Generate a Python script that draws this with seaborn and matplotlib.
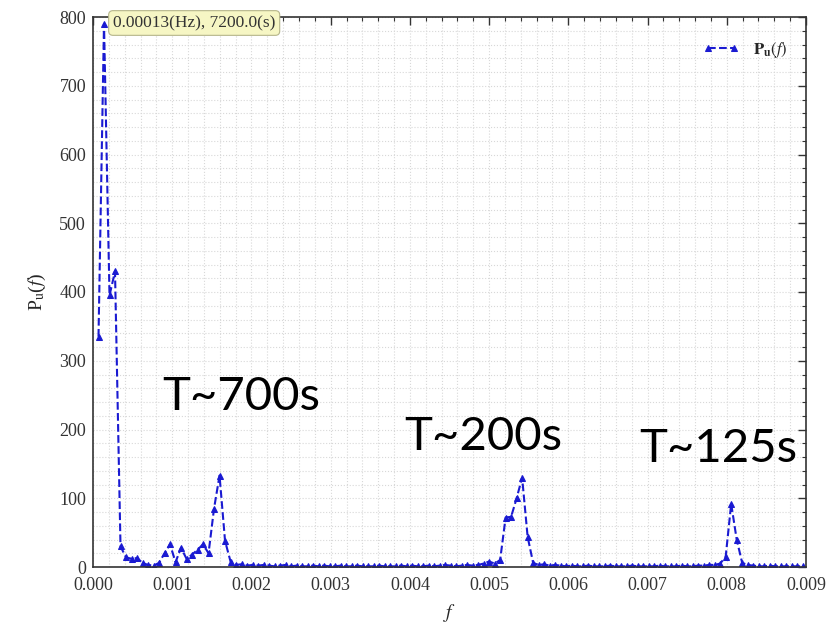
import numpy as np
import pandas as pd
import matplotlib
matplotlib.use("Agg")
import matplotlib.pyplot as plt
import seaborn as sns
from matplotlib.ticker import MultipleLocator, FormatStrFormatter

# ---- data ----
freq_step = 1.0 / 14400.0  # Hz, spectral resolution
power_low = [335, 790, 395, 430, 30, 14, 12, 13, 6, 3, 2, 6, 20, 33, 7, 28,
             12, 18, 25, 33, 20, 85, 133, 38, 8, 3, 4, 2, 3, 2, 3]
power_mid1 = [2, 1, 2, 3, 1, 2, 1, 1, 2, 1, 2, 1, 1, 2, 1, 1, 2, 1, 1, 1,
              2, 1, 1, 1, 2, 1, 2, 1, 1, 2, 1, 2, 3, 2, 1, 2, 3, 2]
power_200 = [3, 5, 8, 5, 10, 72, 73, 100, 130, 44, 6, 3, 4]
power_mid2 = [2, 3, 2, 1, 2, 1, 1, 2, 1, 1, 1, 2, 1, 1, 1, 2, 1, 1, 1, 1,
              2, 1, 1, 1, 2, 1, 1, 2, 2, 3]
power_125 = [3, 5, 15, 92, 40, 6, 3]
power_high = [2, 1, 1, 2, 1, 1, 1, 1, 1, 1]
power = power_low + power_mid1 + power_200 + power_mid2 + power_125 + power_high
freq = np.arange(1, len(power) + 1) * freq_step

period_labels = ["T~700s", "T~200s", "T~125s"]
period_pos = [(0.00088, 228), (0.00393, 170), (0.00690, 152)]
peak_note = "0.00013(Hz), 7200.0(s)"

x_ticks = [0.000, 0.001, 0.002, 0.003, 0.004, 0.005, 0.006, 0.007, 0.008, 0.009]
y_ticks = [0, 100, 200, 300, 400, 500, 600, 700, 800]

df = pd.DataFrame({"f": freq, "P": power})

# ---- figure ----
sns.set_style("white")
plt.rcParams["font.family"] = ["Liberation Serif", "DejaVu Serif"]
plt.rcParams["mathtext.fontset"] = "stix"

fig = plt.figure(figsize=(8.4, 6.24), dpi=100)
ax = fig.add_axes([93 / 840, 57 / 624, 713 / 840, 550 / 624])

blue = "#1a1ad2"
sns.lineplot(data=df, x="f", y="P", ax=ax, color=blue, linestyle="--",
             linewidth=1.5, marker="^", markersize=5, markeredgecolor=blue,
             markerfacecolor=blue, label=r"$\mathbf{P}_{\mathbf{u}}(f)$")

ax.set_xlim(0, 0.009)
ax.set_ylim(0, 800)
ax.set_xticks(x_ticks)
ax.set_yticks(y_ticks)
ax.xaxis.set_major_formatter(FormatStrFormatter("%.3f"))
ax.xaxis.set_minor_locator(MultipleLocator(0.0002))
ax.yaxis.set_minor_locator(MultipleLocator(20))
ax.grid(True, which="both", color="#d8d8d8", linestyle=":", linewidth=0.8)
ax.set_axisbelow(True)
ax.tick_params(which="both", direction="in", top=True, right=True,
               colors="#333333", labelcolor="#333333", labelsize=13)
ax.tick_params(which="major", length=6, width=1)
ax.tick_params(which="minor", length=3, width=0.8)
ax.tick_params(axis="x", which="major", pad=7)
ax.tick_params(axis="y", which="major", pad=5)
for s in ax.spines.values():
    s.set_color("#333333")
    s.set_linewidth(1.2)

ax.set_xlabel(r"$f$", fontsize=14, labelpad=6)
ax.set_ylabel(r"P$_\mathrm{u}$($f$)", fontsize=14, labelpad=8)

for lab, (xx, yy) in zip(period_labels, period_pos):
    ax.text(xx, yy, lab, fontsize=34, family=["Lato", "DejaVu Sans"],
            color="black", ha="left", va="baseline")

fig.text(113 / 840, 1 - 23 / 624, peak_note, fontsize=12.5, va="center",
         ha="left", color="#333333",
         bbox=dict(boxstyle="round,pad=0.25", facecolor="#f6f6c4",
                   edgecolor="#b5b58a", linewidth=0.8))

leg = ax.legend(loc="upper right", bbox_to_anchor=(0.995, 0.985),
                frameon=False, fontsize=12, numpoints=2, handlelength=2.2)

fig.savefig("out.png", dpi=100)
